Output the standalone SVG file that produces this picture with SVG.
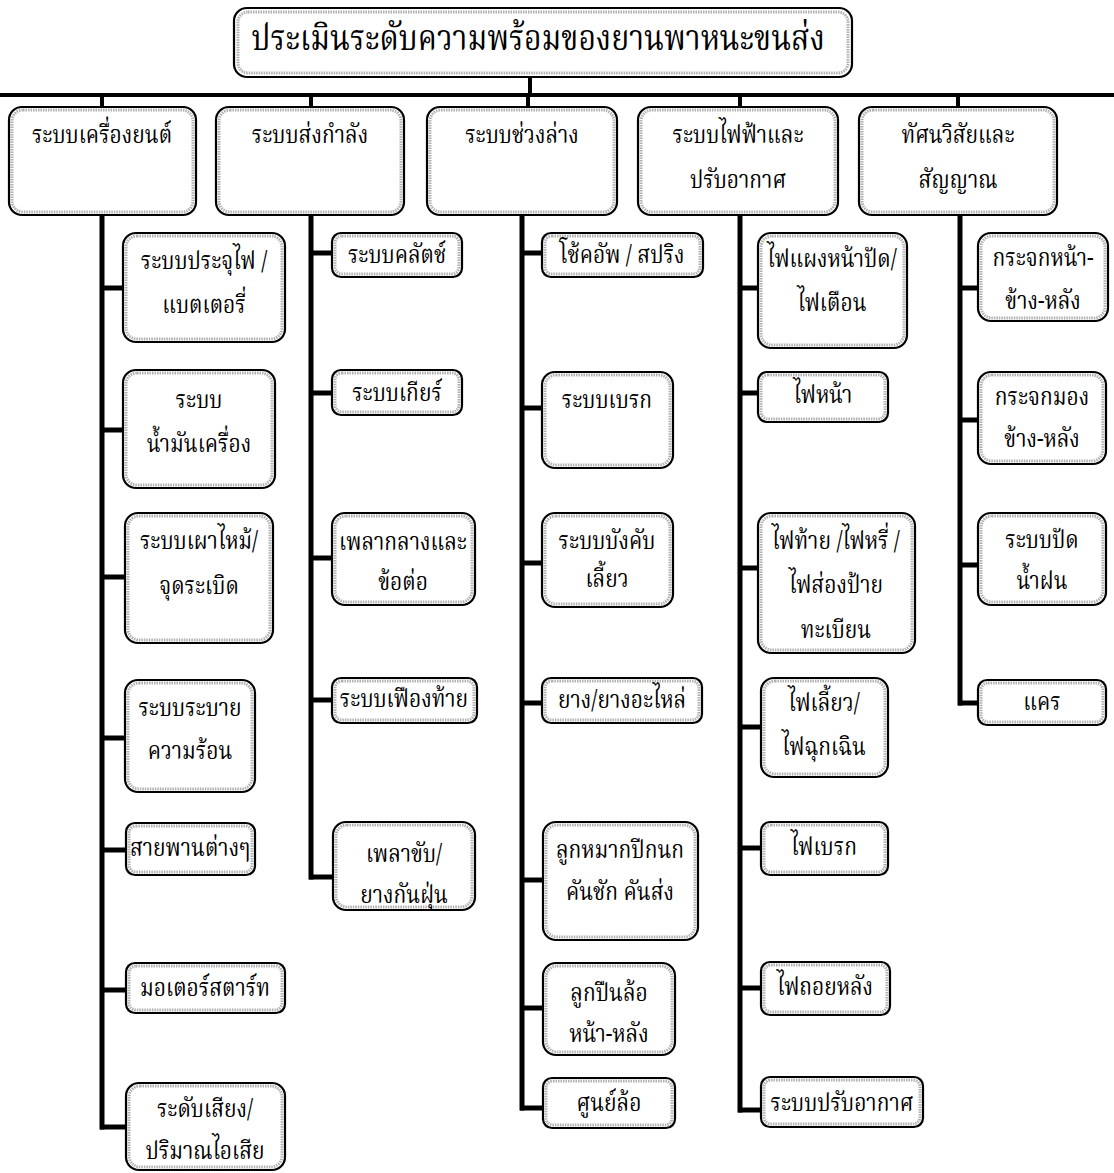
<svg xmlns="http://www.w3.org/2000/svg" width="1114" height="1173" viewBox="0 0 1114 1173">
<style>
.box{fill:#fff;stroke:#000;stroke-width:2.2}
.shade{fill:none;stroke:#b0b0b0;stroke-width:3;stroke-dasharray:1.5 1}
.t{font-family:"Noto Serif Thai","Tlwg Typist","Norasi","Noto Sans Thai","DejaVu Serif",serif;font-size:25px;fill:#000;text-anchor:middle;dominant-baseline:central}
.title{font-size:36px}
.c{stroke:#000;fill:none}
.sp{stroke-width:5}
.br{stroke-width:5}
</style>
<rect width="1114" height="1173" fill="#fff"/>
<g id="connectors" class="c">
<line x1="0" y1="95" x2="1114" y2="95" stroke-width="4"/>
<line x1="530" y1="76" x2="530" y2="95" stroke-width="4"/>
<line x1="102" y1="95" x2="102" y2="108" stroke-width="4"/>
<line x1="311" y1="95" x2="311" y2="108" stroke-width="4"/>
<line x1="528" y1="95" x2="528" y2="108" stroke-width="4"/>
<line x1="740" y1="95" x2="740" y2="108" stroke-width="4"/>
<line x1="958" y1="95" x2="958" y2="108" stroke-width="4"/>
<line class="sp" x1="102" y1="214" x2="102" y2="1129.5"/>
<line class="sp" x1="311" y1="214" x2="311" y2="879.5"/>
<line class="sp" x1="522" y1="214" x2="522" y2="1110.5"/>
<line class="sp" x1="740" y1="214" x2="740" y2="1112.5"/>
<line class="sp" x1="960" y1="214" x2="960" y2="705.5"/>
<g class="br">
<line x1="100" y1="288" x2="124" y2="288"/>
<line x1="100" y1="430" x2="124" y2="430"/>
<line x1="100" y1="577" x2="126" y2="577"/>
<line x1="100" y1="738" x2="126" y2="738"/>
<line x1="100" y1="850" x2="127" y2="850"/>
<line x1="100" y1="990" x2="127" y2="990"/>
<line x1="100" y1="1127" x2="127" y2="1127"/>
<line x1="309" y1="253" x2="333" y2="253"/>
<line x1="309" y1="393" x2="333" y2="393"/>
<line x1="309" y1="558" x2="333" y2="558"/>
<line x1="309" y1="700" x2="333" y2="700"/>
<line x1="309" y1="877" x2="334" y2="877"/>
<line x1="520" y1="253" x2="543" y2="253"/>
<line x1="520" y1="408" x2="543" y2="408"/>
<line x1="520" y1="563" x2="543" y2="563"/>
<line x1="520" y1="703" x2="543" y2="703"/>
<line x1="520" y1="880" x2="544" y2="880"/>
<line x1="520" y1="1008" x2="544" y2="1008"/>
<line x1="520" y1="1108" x2="544" y2="1108"/>
<line x1="738" y1="288" x2="759" y2="288"/>
<line x1="738" y1="393" x2="759" y2="393"/>
<line x1="738" y1="568" x2="759" y2="568"/>
<line x1="738" y1="727" x2="762" y2="727"/>
<line x1="738" y1="848" x2="762" y2="848"/>
<line x1="738" y1="988" x2="762" y2="988"/>
<line x1="738" y1="1110" x2="762" y2="1110"/>
<line x1="958" y1="288" x2="979" y2="288"/>
<line x1="958" y1="420" x2="979" y2="420"/>
<line x1="958" y1="565" x2="979" y2="565"/>
<line x1="958" y1="703" x2="979" y2="703"/>
</g>
</g>
<g id="title">
<rect class="box" x="234" y="8" width="618" height="69" rx="13" stroke-width="2.6"/>
<rect class="shade" x="238" y="12" width="610" height="61" rx="10" stroke-width="4"/>
<text class="t title" transform="translate(538 41) scale(.84 1)">ประเมินระดับความพร้อมของยานพาหนะขนส่ง</text>
</g>
<g id="h1"><rect class="box" x="9" y="107" width="187" height="108" rx="13"/><rect class="shade" x="12" y="110" width="181" height="102" rx="11"/><text class="t" transform="translate(102 136) scale(.84 1)">ระบบเครื่องยนต์</text></g>
<g id="h2"><rect class="box" x="216" y="107" width="188" height="108" rx="13"/><rect class="shade" x="219" y="110" width="182" height="102" rx="11"/><text class="t" transform="translate(310 136) scale(.84 1)">ระบบส่งกำลัง</text></g>
<g id="h3"><rect class="box" x="427" y="107" width="190" height="108" rx="13"/><rect class="shade" x="430" y="110" width="184" height="102" rx="11"/><text class="t" transform="translate(522 136) scale(.84 1)">ระบบช่วงล่าง</text></g>
<g id="h4"><rect class="box" x="638" y="107" width="200" height="108" rx="13"/><rect class="shade" x="641" y="110" width="194" height="102" rx="11"/><text class="t" transform="translate(738 136) scale(.84 1)">ระบบไฟฟ้าและ</text><text class="t" transform="translate(738 181) scale(.84 1)">ปรับอากาศ</text></g>
<g id="h5"><rect class="box" x="859" y="107" width="198" height="108" rx="13"/><rect class="shade" x="862" y="110" width="192" height="102" rx="11"/><text class="t" transform="translate(958 136) scale(.84 1)">ทัศนวิสัยและ</text><text class="t" transform="translate(958 181) scale(.84 1)">สัญญาณ</text></g>

<g id="c1n1"><rect class="box" x="123" y="233" width="162" height="109" rx="13"/><rect class="shade" x="126" y="236" width="156" height="103" rx="11"/><text class="t" transform="translate(204 262) scale(.84 1)">ระบบประจุไฟ /</text><text class="t" transform="translate(204 306) scale(.84 1)">แบตเตอรี่</text></g>
<g id="c1n2"><rect class="box" x="123" y="370" width="152" height="118" rx="13"/><rect class="shade" x="126" y="373" width="146" height="112" rx="11"/><text class="t" transform="translate(199 401) scale(.84 1)">ระบบ</text><text class="t" transform="translate(199 445) scale(.84 1)">น้ำมันเครื่อง</text></g>
<g id="c1n3"><rect class="box" x="125" y="513" width="148" height="130" rx="13"/><rect class="shade" x="128" y="516" width="142" height="124" rx="11"/><text class="t" transform="translate(199 542) scale(.84 1)">ระบบเผาไหม้/</text><text class="t" transform="translate(199 587) scale(.84 1)">จุดระเบิด</text></g>
<g id="c1n4"><rect class="box" x="125" y="680" width="130" height="112" rx="13"/><rect class="shade" x="128" y="683" width="124" height="106" rx="11"/><text class="t" transform="translate(190 709) scale(.84 1)">ระบบระบาย</text><text class="t" transform="translate(190 752) scale(.84 1)">ความร้อน</text></g>
<g id="c1n5"><rect class="box" x="126" y="823" width="129" height="52" rx="9"/><rect class="shade" x="129" y="826" width="123" height="46" rx="7"/><text class="t" transform="translate(190 849) scale(.84 1)">สายพานต่างๆ</text></g>
<g id="c1n6"><rect class="box" x="126" y="963" width="159" height="50" rx="9"/><rect class="shade" x="129" y="966" width="153" height="44" rx="7"/><text class="t" transform="translate(205 989) scale(.84 1)">มอเตอร์สตาร์ท</text></g>
<g id="c1n7"><rect class="box" x="126" y="1083" width="159" height="87" rx="13"/><rect class="shade" x="129" y="1086" width="153" height="81" rx="11"/><text class="t" transform="translate(205 1110) scale(.84 1)">ระดับเสียง/</text><text class="t" transform="translate(205 1152) scale(.84 1)">ปริมาณไอเสีย</text></g>

<g id="c2n1"><rect class="box" x="332" y="233" width="130" height="44" rx="9"/><rect class="shade" x="335" y="236" width="124" height="38" rx="7"/><text class="t" transform="translate(397 256) scale(.84 1)">ระบบคลัตช์</text></g>
<g id="c2n2"><rect class="box" x="332" y="370" width="130" height="45" rx="9"/><rect class="shade" x="335" y="373" width="124" height="39" rx="7"/><text class="t" transform="translate(397 394) scale(.84 1)">ระบบเกียร์</text></g>
<g id="c2n3"><rect class="box" x="332" y="513" width="143" height="92" rx="13"/><rect class="shade" x="335" y="516" width="137" height="86" rx="11"/><text class="t" transform="translate(403 543) scale(.84 1)">เพลากลางและ</text><text class="t" transform="translate(403 583) scale(.84 1)">ข้อต่อ</text></g>
<g id="c2n4"><rect class="box" x="332" y="678" width="145" height="45" rx="9"/><rect class="shade" x="335" y="681" width="139" height="39" rx="7"/><text class="t" transform="translate(404 700) scale(.84 1)">ระบบเฟืองท้าย</text></g>
<g id="c2n5"><rect class="box" x="333" y="822" width="142" height="88" rx="13"/><rect class="shade" x="336" y="825" width="136" height="82" rx="11"/><text class="t" transform="translate(404 855) scale(.84 1)">เพลาขับ/</text><text class="t" transform="translate(404 896) scale(.84 1)">ยางกันฝุ่น</text></g>

<g id="c3n1"><rect class="box" x="542" y="233" width="161" height="44" rx="9"/><rect class="shade" x="545" y="236" width="155" height="38" rx="7"/><text class="t" transform="translate(622 256) scale(.84 1)">โช้คอัพ / สปริง</text></g>
<g id="c3n2"><rect class="box" x="542" y="372" width="131" height="96" rx="13"/><rect class="shade" x="545" y="375" width="125" height="90" rx="11"/><text class="t" transform="translate(607 401) scale(.84 1)">ระบบเบรก</text></g>
<g id="c3n3"><rect class="box" x="542" y="513" width="131" height="94" rx="13"/><rect class="shade" x="545" y="516" width="125" height="88" rx="11"/><text class="t" transform="translate(607 542) scale(.84 1)">ระบบบังคับ</text><text class="t" transform="translate(607 580) scale(.84 1)">เลี้ยว</text></g>
<g id="c3n4"><rect class="box" x="542" y="678" width="160" height="45" rx="9"/><rect class="shade" x="545" y="681" width="154" height="39" rx="7"/><text class="t" transform="translate(622 701) scale(.84 1)">ยาง/ยางอะไหล่</text></g>
<g id="c3n5"><rect class="box" x="543" y="822" width="155" height="118" rx="13"/><rect class="shade" x="546" y="825" width="149" height="112" rx="11"/><text class="t" transform="translate(620 851) scale(.84 1)">ลูกหมากปีกนก</text><text class="t" transform="translate(620 893) scale(.84 1)">คันชัก คันส่ง</text></g>
<g id="c3n6"><rect class="box" x="543" y="963" width="132" height="92" rx="13"/><rect class="shade" x="546" y="966" width="126" height="86" rx="11"/><text class="t" transform="translate(609 994) scale(.84 1)">ลูกปืนล้อ</text><text class="t" transform="translate(609 1035) scale(.84 1)">หน้า-หลัง</text></g>
<g id="c3n7"><rect class="box" x="543" y="1078" width="132" height="50" rx="9"/><rect class="shade" x="546" y="1081" width="126" height="44" rx="7"/><text class="t" transform="translate(609 1104) scale(.84 1)">ศูนย์ล้อ</text></g>

<g id="c4n1"><rect class="box" x="758" y="233" width="149" height="115" rx="13"/><rect class="shade" x="761" y="236" width="143" height="109" rx="11"/><text class="t" transform="translate(832 260) scale(.84 1)">ไฟแผงหน้าปัด/</text><text class="t" transform="translate(832 304) scale(.84 1)">ไฟเตือน</text></g>
<g id="c4n2"><rect class="box" x="758" y="372" width="130" height="50" rx="9"/><rect class="shade" x="761" y="375" width="124" height="44" rx="7"/><text class="t" transform="translate(823 396) scale(.84 1)">ไฟหน้า</text></g>
<g id="c4n3"><rect class="box" x="758" y="513" width="157" height="140" rx="13"/><rect class="shade" x="761" y="516" width="151" height="134" rx="11"/><text class="t" transform="translate(836 542) scale(.84 1)">ไฟท้าย /ไฟหรี่ /</text><text class="t" transform="translate(836 586) scale(.84 1)">ไฟส่องป้าย</text><text class="t" transform="translate(836 631) scale(.84 1)">ทะเบียน</text></g>
<g id="c4n4"><rect class="box" x="761" y="678" width="127" height="99" rx="13"/><rect class="shade" x="764" y="681" width="121" height="93" rx="11"/><text class="t" transform="translate(824 704) scale(.84 1)">ไฟเลี้ยว/</text><text class="t" transform="translate(824 748) scale(.84 1)">ไฟฉุกเฉิน</text></g>
<g id="c4n5"><rect class="box" x="761" y="822" width="127" height="53" rx="9"/><rect class="shade" x="764" y="825" width="121" height="47" rx="7"/><text class="t" transform="translate(824 848) scale(.84 1)">ไฟเบรก</text></g>
<g id="c4n6"><rect class="box" x="761" y="962" width="129" height="53" rx="9"/><rect class="shade" x="764" y="965" width="123" height="47" rx="7"/><text class="t" transform="translate(825 988) scale(.84 1)">ไฟถอยหลัง</text></g>
<g id="c4n7"><rect class="box" x="761" y="1077" width="162" height="50" rx="9"/><rect class="shade" x="764" y="1080" width="156" height="44" rx="7"/><text class="t" transform="translate(842 1104) scale(.84 1)">ระบบปรับอากาศ</text></g>

<g id="c5n1"><rect class="box" x="978" y="233" width="130" height="88" rx="13"/><rect class="shade" x="981" y="236" width="124" height="82" rx="11"/><text class="t" transform="translate(1043 259) scale(.84 1)">กระจกหน้า-</text><text class="t" transform="translate(1043 302) scale(.84 1)">ข้าง-หลัง</text></g>
<g id="c5n2"><rect class="box" x="978" y="372" width="128" height="92" rx="13"/><rect class="shade" x="981" y="375" width="122" height="86" rx="11"/><text class="t" transform="translate(1042 398) scale(.84 1)">กระจกมอง</text><text class="t" transform="translate(1042 440) scale(.84 1)">ข้าง-หลัง</text></g>
<g id="c5n3"><rect class="box" x="978" y="513" width="128" height="92" rx="13"/><rect class="shade" x="981" y="516" width="122" height="86" rx="11"/><text class="t" transform="translate(1042 541) scale(.84 1)">ระบบปัด</text><text class="t" transform="translate(1042 582) scale(.84 1)">น้ำฝน</text></g>
<g id="c5n4"><rect class="box" x="978" y="680" width="128" height="45" rx="9"/><rect class="shade" x="981" y="683" width="122" height="39" rx="7"/><text class="t" transform="translate(1042 703) scale(.84 1)">แคร</text></g>
</svg>
